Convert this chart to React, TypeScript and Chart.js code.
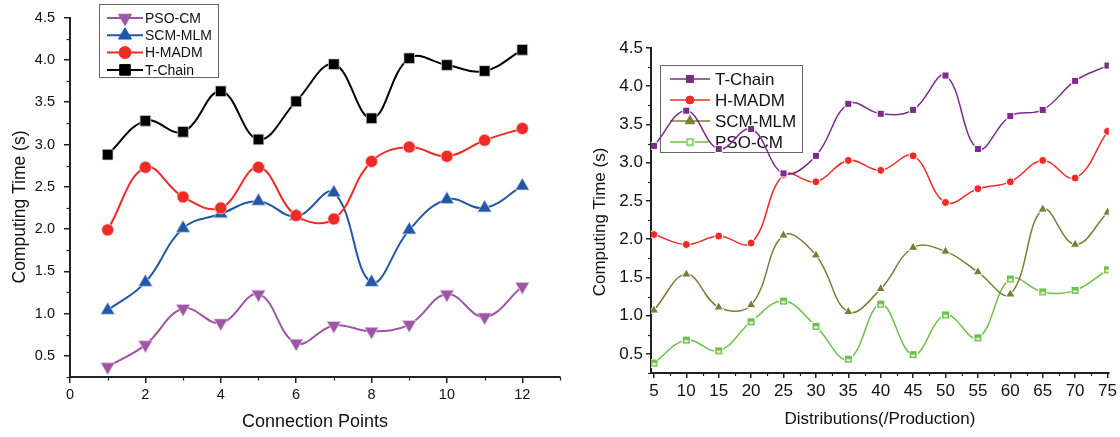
import React, { useEffect, useRef } from "react";
import { Chart, registerables } from "chart.js";

Chart.register(...registerables);

// ---------- Left chart data ----------
const leftX = [1, 2, 3, 4, 5, 6, 7, 8, 9, 10, 11, 12];
const leftPSO = [0.37, 0.63, 1.06, 0.89, 1.23, 0.65, 0.86, 0.79, 0.87, 1.23, 0.96, 1.32];
const leftSCM = [1.04, 1.37, 2.01, 2.18, 2.33, 2.15, 2.43, 1.37, 1.99, 2.35, 2.25, 2.51];
const leftHMADM = [1.99, 2.73, 2.38, 2.25, 2.73, 2.16, 2.12, 2.8, 2.97, 2.86, 3.05, 3.19];
const leftTChain = [2.88, 3.28, 3.15, 3.63, 3.06, 3.51, 3.95, 3.31, 4.02, 3.94, 3.87, 4.12];

const leftXMajor = [0, 2, 4, 6, 8, 10, 12];
const leftXMinor = [1, 3, 5, 7, 9, 11, 13];
const yMajor = [0.5, 1.0, 1.5, 2.0, 2.5, 3.0, 3.5, 4.0, 4.5];
const yMinor = [0.25, 0.75, 1.25, 1.75, 2.25, 2.75, 3.25, 3.75, 4.25];

// ---------- Right chart data ----------
const rightX = [5, 10, 15, 20, 25, 30, 35, 40, 45, 50, 55, 60, 65, 70, 75];
const rightTChain = [3.22, 3.68, 3.18, 3.44, 2.86, 3.09, 3.77, 3.64, 3.69, 4.14, 3.18, 3.61, 3.69, 4.07, 4.27];
const rightHMADM = [2.06, 1.93, 2.04, 1.95, 2.84, 2.75, 3.03, 2.9, 3.09, 2.48, 2.66, 2.75, 3.03, 2.8, 3.41];
const rightSCM = [1.07, 1.54, 1.11, 1.14, 2.05, 1.79, 1.05, 1.35, 1.89, 1.84, 1.57, 1.28, 2.39, 1.93, 2.35];
const rightPSO = [0.38, 0.68, 0.54, 0.92, 1.19, 0.86, 0.43, 1.15, 0.49, 1.01, 0.71, 1.48, 1.31, 1.33, 1.6];

const rightXMajor = [5, 10, 15, 20, 25, 30, 35, 40, 45, 50, 55, 60, 65, 70, 75];
const rightXMinor = [7.5, 12.5, 17.5, 22.5, 27.5, 32.5, 37.5, 42.5, 47.5, 52.5, 57.5, 62.5, 67.5, 72.5];

const FONT = "'Liberation Sans', Arial, sans-serif";

const C_PURPLE_L = "#9E55A6";
const C_BLUE = "#2157A6";
const C_RED = "#EE2B26";
const C_BLACK = "#000000";
const C_PURPLE_R = "#7B2C88";
const C_OLIVE = "#7E7B35";
const C_GREEN = "#6CC04A";

function halfSquareImage(size: number, color: string) {
  const c = document.createElement("canvas");
  c.width = size;
  c.height = size;
  const g = c.getContext("2d")!;
  g.fillStyle = "#ffffff";
  g.fillRect(0, 0, size, size);
  g.fillStyle = color;
  g.fillRect(1, 1, size - 2, size - 2);
  g.fillStyle = "#ffffff";
  g.fillRect(2.5, size / 2, size - 5, size / 2 - 2.5);
  return c;
}

function drawMarker(ctx: CanvasRenderingContext2D, style: any, x: number, y: number, r: number, color: string, border: string) {
  ctx.save();
  ctx.fillStyle = color;
  ctx.strokeStyle = border;
  ctx.lineWidth = 1;
  if (style instanceof HTMLCanvasElement) {
    ctx.drawImage(style, x - style.width / 2, y - style.height / 2);
    ctx.restore();
    return;
  }
  ctx.beginPath();
  if (style === "rect") {
    const s = Math.SQRT1_2 * r;
    ctx.rect(x - s, y - s, 2 * s, 2 * s);
  } else if (style === "circle") {
    ctx.arc(x, y, r, 0, Math.PI * 2);
  } else if (style === "triangle") {
    ctx.moveTo(x, y - r);
    ctx.lineTo(x + r * Math.sin(Math.PI * 2 / 3), y + r * 0.5);
    ctx.lineTo(x - r * Math.sin(Math.PI * 2 / 3), y + r * 0.5);
    ctx.closePath();
  } else if (style === "down") {
    ctx.moveTo(x, y + r);
    ctx.lineTo(x + r * Math.sin(Math.PI * 2 / 3), y - r * 0.5);
    ctx.lineTo(x - r * Math.sin(Math.PI * 2 / 3), y - r * 0.5);
    ctx.closePath();
  }
  ctx.fill();
  ctx.stroke();
  ctx.restore();
}

const decorPlugin = {
  id: "decor",
  beforeDatasetsDraw(chart: any, _args: any, opts: any) {
    const ctx: CanvasRenderingContext2D = chart.ctx;
    const lg = opts.legend;
    if (!lg) return;
    ctx.save();
    ctx.strokeStyle = "#666";
    ctx.lineWidth = 1;
    ctx.strokeRect(lg.x + 0.5, lg.y + 0.5, lg.w, lg.h);
    ctx.font = `${lg.fontSize}px ${FONT}`;
    ctx.textBaseline = "middle";
    ctx.fillStyle = "#111";
    lg.items.forEach((it: any, i: number) => {
      const yy = lg.rowY + i * lg.rowH;
      ctx.strokeStyle = it.color;
      ctx.lineWidth = lg.lineWidth;
      ctx.beginPath();
      ctx.moveTo(lg.lineX0, yy);
      ctx.lineTo(lg.lineX1, yy);
      ctx.stroke();
      drawMarker(ctx, it.style, (lg.lineX0 + lg.lineX1) / 2, yy, it.r, it.color, it.border);
      ctx.fillStyle = "#111";
      ctx.fillText(it.label, lg.textX, yy + 1);
    });
    ctx.restore();
  },
  afterDraw(chart: any, _args: any, opts: any) {
    const ctx: CanvasRenderingContext2D = chart.ctx;
    const xs = chart.scales.x;
    const ys = chart.scales.y;
    ctx.save();
    ctx.strokeStyle = opts.tickColor;
    ctx.lineWidth = opts.tickWidth;
    (opts.xMinor || []).forEach((v: number) => {
      const px = Math.round(xs.getPixelForValue(v)) + 0.5;
      ctx.beginPath();
      ctx.moveTo(px, ys.bottom);
      ctx.lineTo(px, ys.bottom + opts.minorLen);
      ctx.stroke();
    });
    (opts.yMinor || []).forEach((v: number) => {
      const py = Math.round(ys.getPixelForValue(v)) + 0.5;
      ctx.beginPath();
      ctx.moveTo(xs.left, py);
      ctx.lineTo(xs.left - opts.minorLen, py);
      ctx.stroke();
    });
    // y title
    const yt = opts.yTitle;
    ctx.fillStyle = "#111";
    ctx.font = `${yt.size}px ${FONT}`;
    ctx.textAlign = "center";
    ctx.textBaseline = "middle";
    ctx.translate(yt.x, yt.y);
    ctx.rotate(-Math.PI / 2);
    ctx.fillText(yt.text, 0, 0);
    ctx.restore();
  },
};

function makeScale(min: number, max: number, major: number[], fontSize: number, tickLen: number, pad: number, axisWidth: number, fit: (s: any) => void, isY: boolean, title?: any) {
  return {
    type: "linear",
    min,
    max,
    afterBuildTicks: (axis: any) => {
      axis.ticks = major.map((v) => ({ value: v }));
    },
    afterFit: fit,
    border: { display: true, color: "#222", width: axisWidth },
    grid: { display: true, drawOnChartArea: false, drawTicks: true, tickLength: tickLen, color: "#222", lineWidth: 1.5 },
    ticks: {
      autoSkip: false,
      maxRotation: 0,
      padding: pad,
      color: "#111",
      font: { family: FONT, size: fontSize },
      callback: (v: any) => {
        const n = Number(v);
        return isY ? n.toFixed(1) : String(n);
      },
    },
    title: title || { display: false },
  };
}

function series(label: string, xs: number[], ys: number[], color: string, style: any, r: number, lw: number, pBorder: string, pbw: number) {
  return {
    label,
    data: xs.map((x, i) => ({ x, y: ys[i] })),
    borderColor: color,
    backgroundColor: color,
    borderWidth: lw,
    tension: 0.4,
    pointStyle: style,
    pointRadius: r,
    pointBackgroundColor: color,
    pointBorderColor: pBorder,
    pointBorderWidth: pbw,
    fill: false,
  };
}

function LeftChart() {
  const ref = useRef<HTMLCanvasElement>(null);
  useEffect(() => {
    const chart = new Chart(ref.current!, {
      type: "line",
      data: {
        datasets: [
          series("T-Chain", leftX, leftTChain, C_BLACK, "rect", 7.5, 2, "rgba(200,200,200,0.9)", 0.8),
          series("H-MADM", leftX, leftHMADM, C_RED, "circle", 6, 2, "rgba(255,200,200,0.9)", 0.8),
          series("SCM-MLM", leftX, leftSCM, C_BLUE, "triangle", 8, 2, "rgba(200,210,240,0.9)", 0.8),
          { ...series("PSO-CM", leftX, leftPSO, C_PURPLE_L, "triangle", 8, 2, "rgba(230,200,230,0.9)", 0.8), pointRotation: 180 },
        ],
      } as any,
      options: {
        animation: false,
        responsive: false,
        layout: { padding: { left: 0, right: 15, top: 15, bottom: 0 } },
        plugins: {
          legend: { display: false },
          tooltip: { enabled: false },
          decor: {
            tickColor: "#222",
            tickWidth: 1.2,
            minorLen: 3.5,
            xMinor: leftXMinor,
            yMinor: yMinor,
            yTitle: { text: "Computing Time (s)", x: 20, y: 207, size: 17.5 },
            legend: {
              x: 99, y: 4, w: 119, h: 73,
              rowY: 18, rowH: 17.3,
              lineX0: 107, lineX1: 143, textX: 145,
              fontSize: 14, lineWidth: 2,
              items: [
                { label: "PSO-CM", color: C_PURPLE_L, style: "down", r: 7.5, border: C_PURPLE_L },
                { label: "SCM-MLM", color: C_BLUE, style: "triangle", r: 7.5, border: C_BLUE },
                { label: "H-MADM", color: C_RED, style: "circle", r: 6, border: C_RED },
                { label: "T-Chain", color: C_BLACK, style: "rect", r: 7.5, border: C_BLACK },
              ],
            },
          },
        } as any,
        scales: {
          x: makeScale(0, 13, leftXMajor, 14.5, 6, 3, 2, (s: any) => { s.height = 60; }, false, {
            display: true,
            text: "Connection Points",
            color: "#111",
            font: { family: FONT, size: 18 },
            padding: { top: 0, bottom: 4 },
          }),
          y: makeScale(0.25, 4.5, yMajor, 14.5, 6, 9, 2, (s: any) => { s.width = 70; }, true),
        } as any,
      },
      plugins: [decorPlugin],
    });
    return () => chart.destroy();
  }, []);
  return <canvas ref={ref} width={575} height={437} style={{ display: "block" }} />;
}

function RightChart() {
  const ref = useRef<HTMLCanvasElement>(null);
  useEffect(() => {
    const greenImg = halfSquareImage(9, C_GREEN);
    const legendImg = (() => {
      const c = document.createElement("canvas");
      c.width = 9;
      c.height = 9;
      const g = c.getContext("2d")!;
      g.fillStyle = "#fff";
      g.fillRect(0, 0, 9, 9);
      g.strokeStyle = C_GREEN;
      g.lineWidth = 1.5;
      g.strokeRect(1.5, 1.5, 6, 6);
      return c;
    })();
    const chart = new Chart(ref.current!, {
      type: "line",
      data: {
        datasets: [
          series("T-Chain", rightX, rightTChain, C_PURPLE_R, "rect", 5, 1.5, "#ffffff", 1),
          series("H-MADM", rightX, rightHMADM, C_RED, "circle", 4, 1.5, "#ffffff", 1),
          series("SCM-MLM", rightX, rightSCM, C_OLIVE, "triangle", 5.5, 1.5, "#ffffff", 1),
          series("PSO-CM", rightX, rightPSO, C_GREEN, greenImg, 4.5, 1.5, "#ffffff", 1),
        ],
      } as any,
      options: {
        animation: false,
        responsive: false,
        layout: { padding: { left: 0, right: 11, top: 48, bottom: 0 } },
        plugins: {
          legend: { display: false },
          tooltip: { enabled: false },
          decor: {
            tickColor: "#222",
            tickWidth: 1.2,
            minorLen: 3,
            xMinor: rightXMinor,
            yMinor: yMinor,
            yTitle: { text: "Computing Time (s)", x: 25, y: 222, size: 17 },
            legend: {
              x: 85, y: 65, w: 142, h: 87,
              rowY: 79, rowH: 21,
              lineX0: 95, lineX1: 135, textX: 140,
              fontSize: 17, lineWidth: 1.5,
              items: [
                { label: "T-Chain", color: C_PURPLE_R, style: "rect", r: 5, border: C_PURPLE_R },
                { label: "H-MADM", color: C_RED, style: "circle", r: 4, border: C_RED },
                { label: "SCM-MLM", color: C_OLIVE, style: "triangle", r: 5.5, border: C_OLIVE },
                { label: "PSO-CM", color: C_GREEN, style: legendImg, r: 4.5, border: C_GREEN },
              ],
            },
          },
        } as any,
        scales: {
          x: makeScale(4.55, 75.2, rightXMajor, 17, 5, 3, 2, (s: any) => { s.height = 64; }, false, {
            display: true,
            text: "Distributions(/Production)",
            color: "#111",
            font: { family: FONT, size: 17 },
            padding: { top: 0, bottom: 7 },
          }),
          y: makeScale(0.25, 4.5, yMajor, 17, 5, 3, 2, (s: any) => { s.width = 76; }, true),
        } as any,
      },
      plugins: [decorPlugin],
    });
    return () => chart.destroy();
  }, []);
  return <canvas ref={ref} width={545} height={437} style={{ display: "block" }} />;
}

export default function App() {
  return (
    <div style={{ position: "fixed", left: 0, top: 0, width: 1120, height: 437, background: "#fff", display: "flex" }}>
      <LeftChart />
      <RightChart />
    </div>
  );
}
